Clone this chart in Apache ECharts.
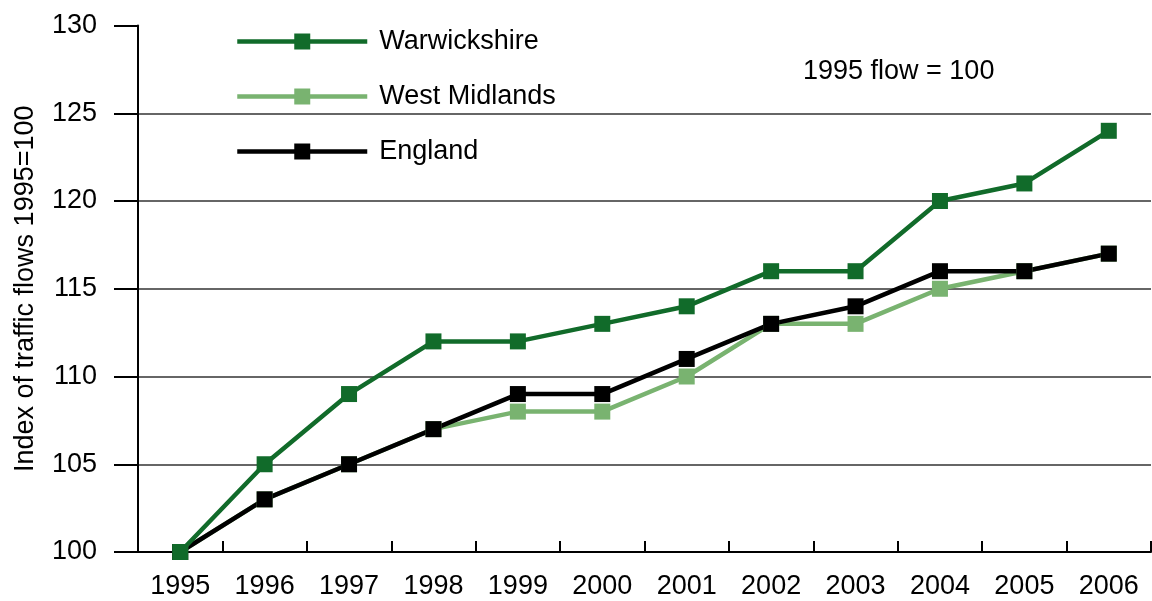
<!DOCTYPE html>
<html>
<head>
<meta charset="utf-8">
<script src="https://cdn.jsdelivr.net/npm/echarts@6/dist/echarts.min.js"></script>
<style>
  html, body { margin: 0; padding: 0; background: #fff; }
  #chart { width: 1152px; height: 601px; }
</style>
</head>
<body>
<div id="chart"></div>
<script>
const years = ["1995", "1996", "1997", "1998", "1999", "2000", "2001", "2002", "2003", "2004", "2005", "2006"];
const warwickshire = [100, 105, 109, 112, 112, 113, 114, 116, 116, 120, 121, 124];
const westMidlands = [100, 103, 105, 107, 108, 108, 110, 113, 113, 115, 116, 117];
const england = [100, 103, 105, 107, 109, 109, 111, 113, 114, 116, 116, 117];

const font = "'Liberation Sans', Arial, sans-serif";
const darkGreen = "#116b2a";
const lightGreen = "#79b370";

function lineSeries(name, data, color) {
  return {
    name: name,
    type: "line",
    data: data,
    symbol: "rect",
    symbolSize: 16,
    lineStyle: { color: color, width: 4.5 },
    itemStyle: { color: color },
    emphasis: { disabled: true },
    animation: false
  };
}

const chart = echarts.init(document.getElementById("chart"));
chart.setOption({
  textStyle: { fontFamily: font },
  grid: { left: 138, right: 1, top: 25.5, bottom: 49, outerBoundsMode: "none" },
  legend: {
    orient: "vertical",
    left: 230,
    top: 23,
    itemWidth: 130,
    itemHeight: 20,
    itemGap: 28,
    data: ["Warwickshire", "West Midlands", "England"],
    lineStyle: { width: 4.5 },
    textStyle: { fontSize: 27, color: "#000", fontFamily: font, padding: [0, 0, 0, 7] }
  },
  graphic: [
    {
      type: "text",
      left: 803,
      top: 58,
      style: { text: "1995 flow = 100", fontSize: 27, fill: "#000", fontFamily: font }
    }
  ],
  xAxis: {
    type: "category",
    data: years,
    boundaryGap: true,
    axisLine: { lineStyle: { color: "#000", width: 2 } },
    axisTick: { show: true, inside: true, length: 11, interval: 0, lineStyle: { color: "#000", width: 2 } },
    axisLabel: { fontSize: 27, color: "#000", margin: 21, fontFamily: font, interval: 0 },
    splitLine: { show: false }
  },
  yAxis: {
    type: "value",
    min: 100,
    max: 130,
    interval: 5,
    name: "Index of traffic flows 1995=100",
    nameLocation: "middle",
    nameRotate: 90,
    nameGap: 99,
    nameTextStyle: { fontSize: 27, color: "#000", fontFamily: font },
    axisLine: { show: true, lineStyle: { color: "#000", width: 2 } },
    axisTick: { show: true, inside: false, length: 24, lineStyle: { color: "#000", width: 2 } },
    axisLabel: { fontSize: 27, color: "#000", margin: 41, fontFamily: font },
    splitLine: { show: true, showMinLine: false, showMaxLine: false, lineStyle: { color: "#333", width: 1.5 } }
  },
  series: [
    lineSeries("West Midlands", westMidlands, lightGreen),
    lineSeries("England", england, "#000"),
    lineSeries("Warwickshire", warwickshire, darkGreen)
  ]
});
</script>
</body>
</html>
